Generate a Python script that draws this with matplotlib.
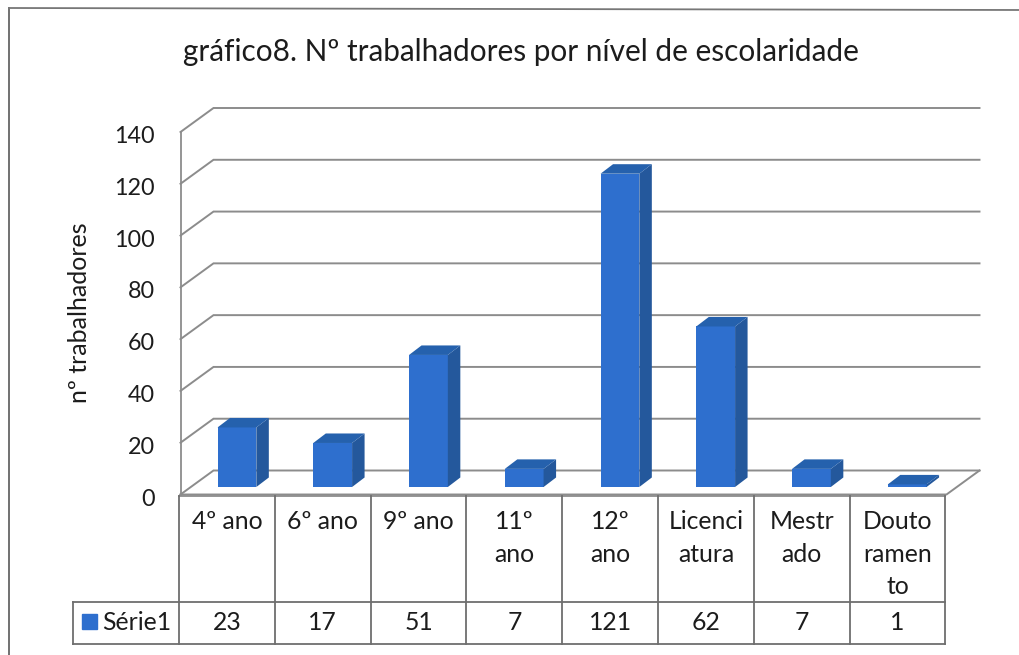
import matplotlib
matplotlib.use("Agg")
import matplotlib.pyplot as plt
from matplotlib.lines import Line2D
from matplotlib.transforms import ScaledTranslation

plt.rcParams['font.family'] = ['Lato', 'DejaVu Sans']

categories = ["4º ano", "6º ano", "9º ano", "11º\nano", "12º\nano",
              "Licenci\natura", "Mestr\nado", "Douto\nramen\nto"]
values = [23, 17, 51, 7, 121, 62, 7, 1]
series_name = "Série1"
y_ticks = [0, 20, 40, 60, 80, 100, 120, 140]
title = "gráfico8. Nº trabalhadores por nível de escolaridade"
y_label = "nº trabalhadores"

W, H = 1020, 655
FRONT, SIDE, TOP = "#2e6fce", "#24589c", "#2561ad"
GRID = "#8c8c8c"
TXT = "#1c1c1c"
TABLE = "#6e6e6e"

fig = plt.figure(figsize=(W / 100, H / 100), dpi=100, facecolor="white")

def fx(x): return x / W
def fy(y): return 1 - y / H

L, R, T, B = 180.5, 946.5, 132.0, 494.5
ax = fig.add_axes([fx(L), fy(B), (R - L) / W, (B - T) / H])
ax.set_facecolor("none")
ax.set_xlim(0, len(categories))
ax.set_ylim(0, 140)
pxx = len(categories) / (R - L)
pxy = 140 / (B - T)

for s in ("top", "right", "bottom"):
    ax.spines[s].set_visible(False)
ax.spines["left"].set_color(GRID)
ax.spines["left"].set_linewidth(1.3)
ax.set_xticks([])
ax.set_yticks(y_ticks)
ax.tick_params(axis="y", length=0, pad=18.5, labelsize=16.8, labelcolor=TXT)
shift = ScaledTranslation(0, -2.5 / 72 * 0.72 * 100 / 100, fig.dpi_scale_trans)
for lab in ax.get_yticklabels():
    lab.set_transform(lab.get_transform() + ScaledTranslation(0, -2.5 / 100, fig.dpi_scale_trans))

# back wall and floor
wx, wy = 33 * pxx, 24 * pxy
n = len(categories)
for v in y_ticks:
    ax.plot([0, wx, n + wx], [v, v + wy, v + wy], color=GRID, lw=1.4,
            clip_on=False, zorder=1, solid_joinstyle="miter")
ax.plot([0, n, n + wx], [0, 0, wy], color=GRID, lw=1.4, clip_on=False, zorder=1)

# 3D bars
bw = 0.405
sx, sy = 10 * pxx, 7.5 * pxy       # front face offset from the floor edge
dx, dy = 12.5 * pxx, 9.5 * pxy     # bar depth
for i, v in enumerate(values):
    x0 = i + 0.5 - bw / 2 + sx - 0.015
    x1 = x0 + bw
    ax.bar(x0, v, bw, bottom=sy, align="edge", color=FRONT, lw=0, zorder=3)
    ax.fill([x1, x1 + dx, x1 + dx, x1],
            [sy, sy + dy, sy + v + dy, sy + v], color=SIDE, lw=0, zorder=3)
    ax.fill([x0, x0 + dx, x1 + dx, x1],
            [sy + v, sy + v + dy, sy + v + dy, sy + v], color=TOP, lw=0, zorder=3)

# frame of the scanned chart
def line(xs, ys, color=TABLE, lw=1.3):
    fig.add_artist(Line2D([fx(x) for x in xs], [fy(y) for y in ys],
                          color=color, lw=lw))

line([9, 9], [8, 655], "#666666")
line([9, 1020], [8, 10], "#777777")

# data table
tl, tr, ty0, ty1, ty2, legx = 179.0, 945.5, 495.5, 602.0, 644.0, 73.0
cw = (tr - tl) / n
line([tl, tr], [ty0, ty0], GRID)
line([legx, tr], [ty1, ty1])
line([legx, tr], [ty2, ty2])
line([legx, legx], [ty1, ty2])
for i in range(n + 1):
    line([tl + i * cw] * 2, [ty0, ty2])

TS = 17.8
for i, c in enumerate(categories):
    cx = tl + (i + 0.5) * cw
    fig.text(fx(cx), fy(510), c, ha="center", va="top", fontsize=TS,
             color=TXT, linespacing=1.5)
    fig.text(fx(cx), fy(622), str(values[i]), ha="center", va="center",
             fontsize=TS, color=TXT)

fig.patches.append(plt.Rectangle((fx(82), fy(629)), 15 / W, 15 / H, color=FRONT,
                                 transform=fig.transFigure))
fig.text(fx(102), fy(622), series_name, ha="left", va="center", fontsize=TS, color=TXT)

fig.text(fx(520.5), fy(52), title, ha="center", va="center", fontsize=21.4, color=TXT)
fig.text(fx(80), fy(313), y_label, ha="center", va="center", rotation=90,
         fontsize=18, color=TXT)

fig.savefig("out.png", dpi=100)
